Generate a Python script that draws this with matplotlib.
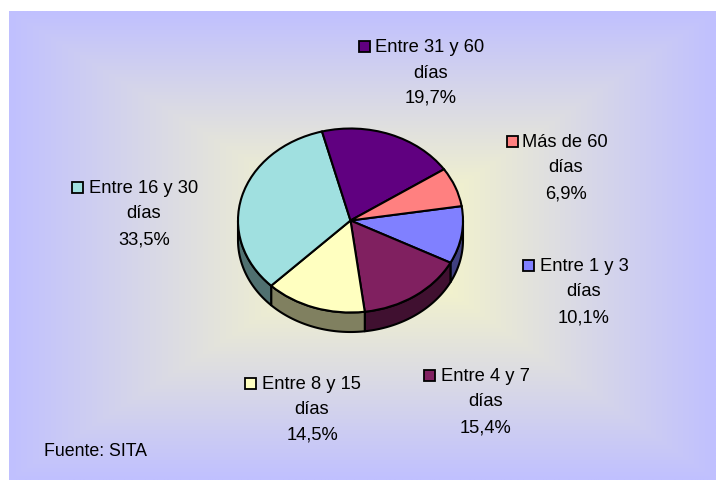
import numpy as np
import matplotlib
matplotlib.use("Agg")
import matplotlib.pyplot as plt
from matplotlib.colors import to_rgb
from matplotlib.patches import Rectangle

plt.rcParams['font.family'] = ['Liberation Sans', 'DejaVu Sans']

categories = ["Entre 1 y 3", "Entre 4 y 7", "Entre 8 y 15", "Entre 16 y 30", "Entre 31 y 60", "Más de 60"]
values = [10.1, 15.4, 14.5, 33.5, 19.7, 6.9]
colors = ["#8080FF", "#802060", "#FFFFC0", "#A0E0E0", "#600080", "#FF8080"]
value_labels = ["10,1%", "15,4%", "14,5%", "33,5%", "19,7%", "6,9%"]
unit = "días"
source = "Fuente: SITA"

W, H = 716, 481
fig = plt.figure(figsize=(W / 100, H / 100), dpi=100, facecolor="white")

# pixel-coordinate overlay
bg = fig.add_axes([0, 0, 1, 1])
bg.set_xlim(0, W)
bg.set_ylim(H, 0)
bg.axis("off")

# rectangular gradient panel
px0, py0, px1, py1 = 9, 12, 716, 481
gx, gy = 378, 242  # gradient centre
xs = np.linspace(px0, px1, 500)
ys = np.linspace(py0, py1, 350)
u = np.where(xs < gx, (gx - xs) / (gx - px0), (xs - gx) / (px1 - gx))
v = np.where(ys < gy, (gy - ys) / (gy - py0), (ys - gy) / (py1 - gy))
t = np.maximum(u[None, :], v[:, None])[..., None]
c_in = np.array(to_rgb("#FFFFC0"))
c_out = np.array(to_rgb("#C0C0FF"))
bg.imshow(c_in + (c_out - c_in) * t, extent=(px0, px1, py1, py0), aspect="auto",
          interpolation="bilinear", zorder=0)
bg.set_xlim(0, W)
bg.set_ylim(H, 0)

# pie
cx, cy, rx, ry, depth = 350.5, 221.5, 112.5, 92, 19.5
ax = fig.add_axes([(cx - rx) / W, 1 - (cy + ry) / H, 2 * rx / W, 2 * ry / H])
lw = 1.5
start = 9.0
wedges, _ = ax.pie(values, colors=colors, startangle=start, counterclock=False, radius=1,
                   wedgeprops=dict(edgecolor="black", linewidth=lw, zorder=3, clip_on=False))
ax.set_aspect("auto")

# side wall derived from the slice angles
d = depth / ry
fracs = np.array(values) / sum(values)
edges = start - 360 * np.concatenate([[0], np.cumsum(fracs)])
for a0, a1, col in zip(edges[:-1], edges[1:], colors):
    hi = ((a0 + 180) % 360) - 180
    lo = hi - (a0 - a1)
    lo2, hi2 = max(lo, -180), min(hi, 0)
    if hi2 <= lo2:
        continue
    th = np.radians(np.linspace(lo2, hi2, 60))
    x, y = np.cos(th), np.sin(th)
    side = np.array(to_rgb(col)) * 0.5
    ax.fill(np.r_[x, x[::-1]], np.r_[y, y[::-1] - d], facecolor=side, edgecolor="black",
            linewidth=lw, zorder=2, clip_on=False, joinstyle="round")
ax.set_xlim(-1, 1)
ax.set_ylim(-1, 1)

# labels: marker left edge, first-line text left, centre of lower lines, line y's
fs = 13.2
layout = {
    "Entre 1 y 3": (523, 540, 584, (266, 291, 317)),
    "Entre 4 y 7": (424, 441, 485.5, (376, 401, 427)),
    "Entre 8 y 15": (245, 262, 312, (384, 409, 434)),
    "Entre 16 y 30": (72, 89, 144, (188, 213, 239)),
    "Entre 31 y 60": (359, 375, 431, (47, 72, 97)),
    "Más de 60": (507, 522, 566, (142, 167, 193)),
}
ov = fig.add_axes([0, 0, 1, 1], facecolor="none")
ov.set_xlim(0, W)
ov.set_ylim(H, 0)
ov.axis("off")
for cat, col, vl in zip(categories, colors, value_labels):
    mx, tx, cxt, (y1, y2, y3) = layout[cat]
    ov.add_patch(Rectangle((mx, y1 - 5), 10.5, 11, facecolor=col, edgecolor="black", linewidth=1.3))
    ov.text(tx, y1 + 1, cat, fontsize=fs, ha="left", va="center", color="black")
    ov.text(cxt, y2 + 1, unit, fontsize=fs, ha="center", va="center", color="black")
    ov.text(cxt, y3 + 1, vl, fontsize=fs, ha="center", va="center", color="black")
ov.text(44, 452, source, fontsize=12.8, ha="left", va="center", color="black")

fig.savefig("out.png", dpi=100, facecolor="white")
